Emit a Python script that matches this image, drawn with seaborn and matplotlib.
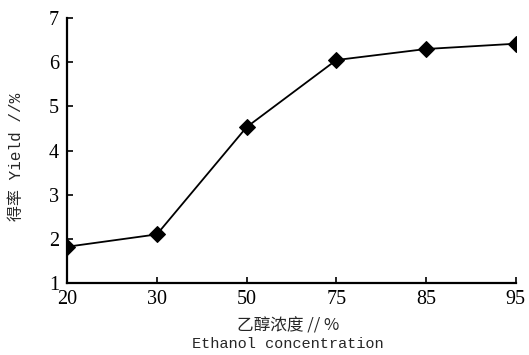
import matplotlib
matplotlib.use("Agg")
import matplotlib.pyplot as plt
import pandas as pd
import seaborn as sns

CONCENTRATIONS = ["20", "30", "50", "75", "85", "95"]
YIELDS = [1.82, 2.10, 4.53, 6.05, 6.30, 6.42]
Y_TICKS = [1, 2, 3, 4, 5, 6, 7]

SERIF = ["Liberation Serif", "DejaVu Serif"]
CJK = ["Noto Sans CJK SC", "DejaVu Sans"]
MIXED = ["Liberation Mono", "Noto Sans CJK SC", "DejaVu Sans"]
MONO = ["Liberation Mono", "DejaVu Sans Mono"]


def main():
    sns.set_theme(style="ticks")
    plt.rcParams["font.family"] = SERIF

    df = pd.DataFrame({"pos": range(len(CONCENTRATIONS)), "yield": YIELDS})

    fig = plt.figure(figsize=(5.29, 3.55), dpi=100)
    ax = fig.add_axes([0.127, 0.203, 0.848, 0.746])
    sns.lineplot(data=df, x="pos", y="yield", ax=ax, color="black",
                 marker="D", markersize=8, markeredgecolor="black", linewidth=1.3)

    ax.set_xlim(0, len(CONCENTRATIONS) - 1)
    ax.set_ylim(1, 7)
    ax.set_xticks(range(len(CONCENTRATIONS)))
    ax.set_xticklabels(CONCENTRATIONS)
    ax.set_yticks(Y_TICKS)
    ax.tick_params(direction="in", length=4, width=1.2, colors="black",
                   labelsize=14.5)
    ax.tick_params(axis="x", pad=5)
    ax.tick_params(axis="y", pad=6)
    for lab in ax.get_xticklabels() + ax.get_yticklabels():
        lab.set_family(SERIF)

    for side in ("top", "right"):
        ax.spines[side].set_visible(False)
    for side in ("left", "bottom"):
        ax.spines[side].set_linewidth(1.6)
        ax.spines[side].set_color("black")

    ax.set_xlabel("")
    ax.set_ylabel("")
    fig.text(0.545, 0.082, "乙醇浓度 // %", family=CJK, fontsize=12,
             ha="center", va="center")
    fig.text(0.545, 0.03, "Ethanol concentration", family=MONO, fontsize=11,
             ha="center", va="center")
    fig.text(0.032, 0.557, "得率 Yield //%", family=MIXED, fontsize=11.5,
             rotation=90, ha="center", va="center")

    fig.savefig("out.png", dpi=100)


if __name__ == "__main__":
    main()
